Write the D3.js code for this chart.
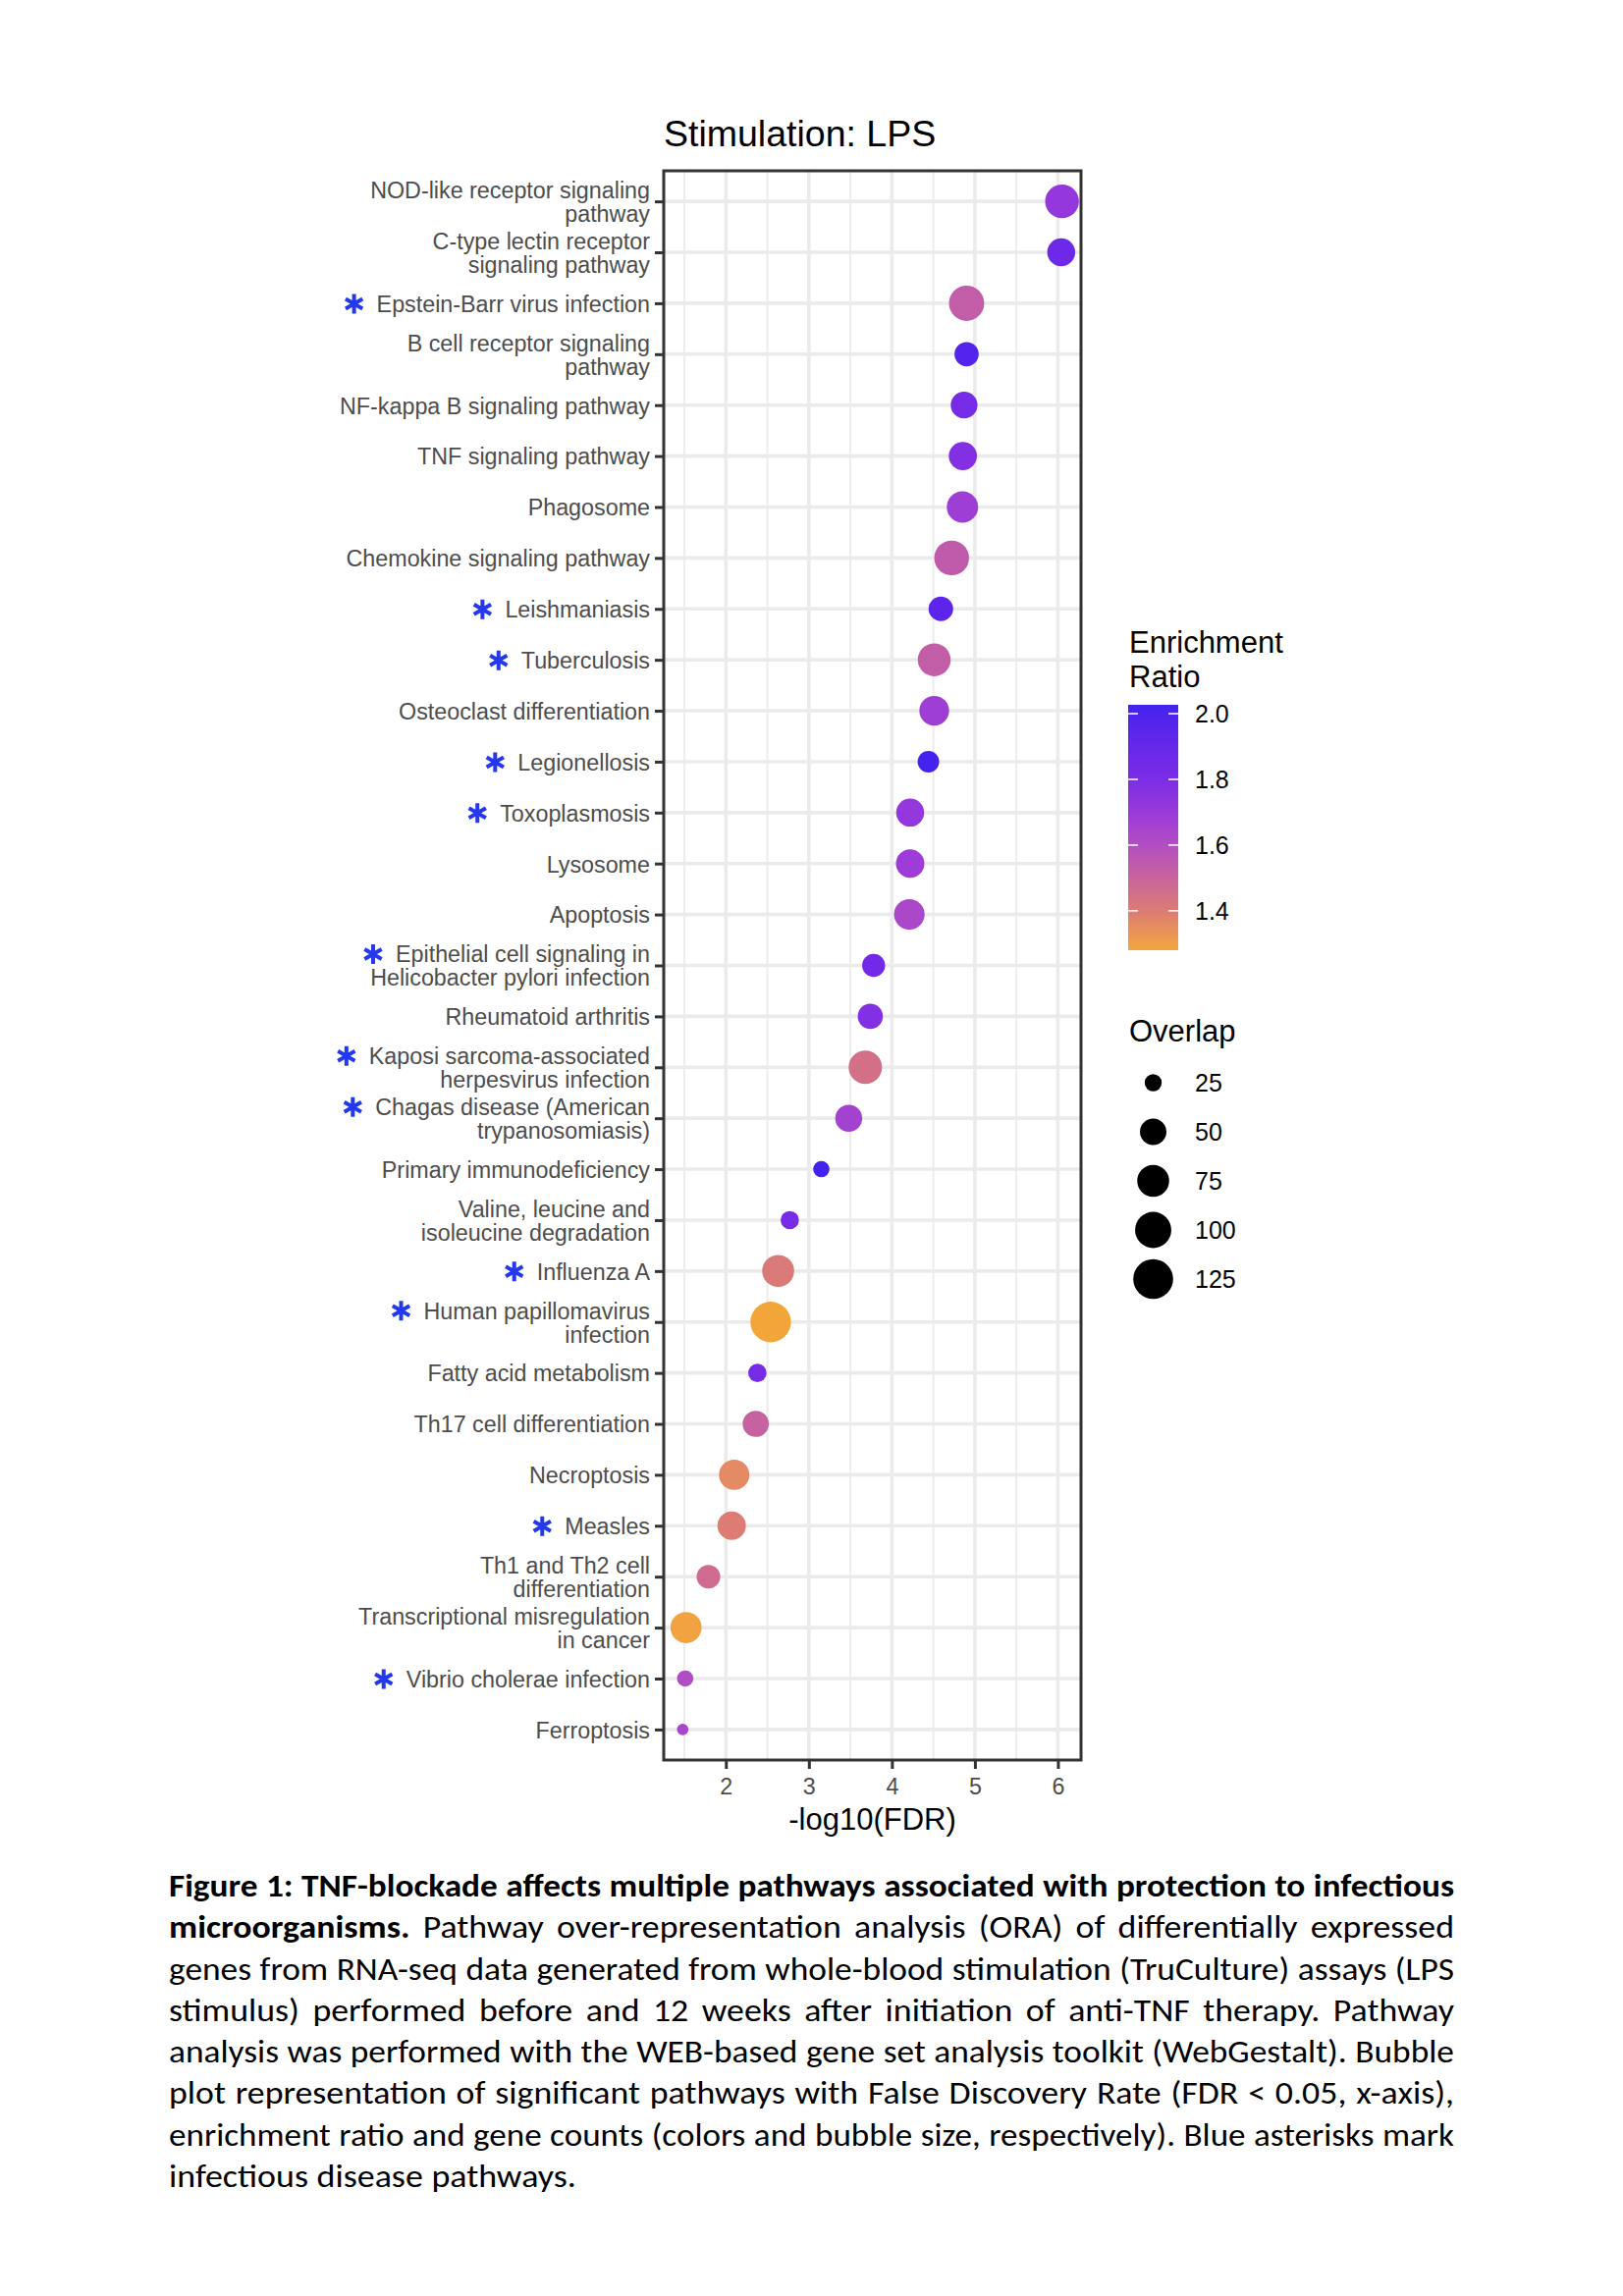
<!DOCTYPE html>
<html>
<head>
<meta charset="utf-8">
<script src="https://cdn.jsdelivr.net/npm/d3@7"></script>
<style>
  body { margin: 0; background: #fff; }
  svg { display: block; }
</style>
</head>
<body>
<div id="chart"></div>
<script>
// pathways, top to bottom
const pathways = [
  "NOD-like receptor signaling\npathway",
  "C-type lectin receptor\nsignaling pathway",
  "Epstein-Barr virus infection",
  "B cell receptor signaling\npathway",
  "NF-kappa B signaling pathway",
  "TNF signaling pathway",
  "Phagosome",
  "Chemokine signaling pathway",
  "Leishmaniasis",
  "Tuberculosis",
  "Osteoclast differentiation",
  "Legionellosis",
  "Toxoplasmosis",
  "Lysosome",
  "Apoptosis",
  "Epithelial cell signaling in\nHelicobacter pylori infection",
  "Rheumatoid arthritis",
  "Kaposi sarcoma-associated\nherpesvirus infection",
  "Chagas disease (American\ntrypanosomiasis)",
  "Primary immunodeficiency",
  "Valine, leucine and\nisoleucine degradation",
  "Influenza A",
  "Human papillomavirus\ninfection",
  "Fatty acid metabolism",
  "Th17 cell differentiation",
  "Necroptosis",
  "Measles",
  "Th1 and Th2 cell\ndifferentiation",
  "Transcriptional misregulation\nin cancer",
  "Vibrio cholerae infection",
  "Ferroptosis"
];
const negLog10FDR = [6.05, 6.04, 4.90, 4.90, 4.87, 4.855, 4.85, 4.72, 4.59, 4.51, 4.51, 4.44, 4.22, 4.22, 4.21,
  3.78, 3.74, 3.68, 3.48, 3.15, 2.77, 2.63, 2.54, 2.38, 2.36, 2.10, 2.07, 1.79, 1.52, 1.51, 1.48];
const enrichmentRatio = [1.72, 1.87, 1.53, 1.98, 1.83, 1.78, 1.68, 1.54, 1.94, 1.53, 1.68, 2.02, 1.72, 1.69, 1.63,
  1.85, 1.78, 1.45, 1.66, 2.027, 1.83, 1.41, 1.28, 1.83, 1.51, 1.36, 1.40, 1.47, 1.29, 1.61, 1.64];
const overlapGenes = [85, 56, 94, 42, 51, 57, 72, 91, 43, 80, 64, 34, 56, 58, 68,
  38, 45, 83, 52, 24, 27, 75, 130, 27, 49, 67, 58, 40, 71, 24, 21];
// pathways marked with a blue asterisk
const infectious = [
  "Epstein-Barr virus infection", "Leishmaniasis", "Tuberculosis", "Legionellosis", "Toxoplasmosis",
  "Epithelial cell signaling in\nHelicobacter pylori infection", "Kaposi sarcoma-associated\nherpesvirus infection",
  "Chagas disease (American\ntrypanosomiasis)", "Influenza A", "Human papillomavirus\ninfection",
  "Measles", "Vibrio cholerae infection"
];
const xTicks = [2, 3, 4, 5, 6];
const ratioTicks = [1.4, 1.6, 1.8, 2.0];
const overlapBreaks = [25, 50, 75, 100, 125];

const captionLines = [
  [{b: true, t: "Figure 1: TNF-blockade affects multiple pathways associated with protection to infectious"}],
  [{b: true, t: "microorganisms."}, {b: false, t: "Pathway over-representation analysis (ORA) of differentially expressed"}],
  [{b: false, t: "genes from RNA-seq data generated from whole-blood stimulation (TruCulture) assays (LPS"}],
  [{b: false, t: "stimulus) performed before and 12 weeks after initiation of anti-TNF therapy. Pathway"}],
  [{b: false, t: "analysis was performed with the WEB-based gene set analysis toolkit (WebGestalt). Bubble"}],
  [{b: false, t: "plot representation of significant pathways with False Discovery Rate (FDR < 0.05, x-axis),"}],
  [{b: false, t: "enrichment ratio and gene counts (colors and bubble size, respectively). Blue asterisks mark"}],
  [{b: false, t: "infectious disease pathways."}]
];

const data = pathways.map((p, i) => ({
  pathway: p, fdr: negLog10FDR[i], ratio: enrichmentRatio[i], overlap: overlapGenes[i]
}));

// page + panel geometry
const W = 1653, H = 2339;
const panel = {left: 676, right: 1101, top: 174, bottom: 1793};
const font = "'Liberation Sans', Arial, Helvetica, sans-serif";

const svg = d3.select("#chart")
  .append("svg")
  .attr("width", W)
  .attr("height", H)
  .style("font-family", font);

svg.append("rect").attr("width", W).attr("height", H).attr("fill", "#fff");

// scales
const fdrExt = d3.extent(negLog10FDR);
const pad = (fdrExt[1] - fdrExt[0]) * 0.05;
const x = d3.scaleLinear()
  .domain([fdrExt[0] - pad, fdrExt[1] + pad])
  .range([panel.left, panel.right]);

const y = d3.scalePoint()
  .domain(pathways)
  .range([panel.top, panel.bottom])
  .padding(0.6);

const erExt = d3.extent(enrichmentRatio);
const color = d3.scaleLinear()
  .domain([erExt[0], 1.4, 1.5, 1.6, 1.7, 1.8, erExt[1]])
  .range(["#F2A63A", "#DC7C74", "#C8649C", "#B24EC2", "#9A3ADA", "#7C2CE6", "#4322EE"])
  .interpolate(d3.interpolateLab);

const sizeNorm = d3.scaleLinear().domain(d3.extent(overlapGenes)).range([0, 1]);
const radius = d3.scaleLinear().domain([0, 1]).range([5.85, 20.65]);
const r = v => radius(Math.sqrt(Math.max(0, sizeNorm(v))));

// grid
const grid = svg.append("g");
const minorTicks = xTicks.map(t => t - 0.5).concat([xTicks[xTicks.length - 1] + 0.5])
  .filter(t => t > x.domain()[0] && t < x.domain()[1]);
grid.selectAll(".minor")
  .data(minorTicks)
  .join("line")
    .attr("x1", d => x(d)).attr("x2", d => x(d))
    .attr("y1", panel.top).attr("y2", panel.bottom)
    .attr("stroke", "#EBEBEB").attr("stroke-width", 1.8);
grid.selectAll(".majx")
  .data(xTicks)
  .join("line")
    .attr("x1", d => x(d)).attr("x2", d => x(d))
    .attr("y1", panel.top).attr("y2", panel.bottom)
    .attr("stroke", "#EBEBEB").attr("stroke-width", 3.6);
grid.selectAll(".majy")
  .data(pathways)
  .join("line")
    .attr("x1", panel.left).attr("x2", panel.right)
    .attr("y1", d => y(d)).attr("y2", d => y(d))
    .attr("stroke", "#EBEBEB").attr("stroke-width", 3.6);

// bubbles
svg.append("g")
  .selectAll("circle")
  .data(data)
  .join("circle")
    .attr("cx", d => x(d.fdr))
    .attr("cy", d => y(d.pathway))
    .attr("r", d => r(d.overlap))
    .attr("fill", d => color(d.ratio));

// panel border
svg.append("rect")
  .attr("x", panel.left).attr("y", panel.top)
  .attr("width", panel.right - panel.left)
  .attr("height", panel.bottom - panel.top)
  .attr("fill", "none")
  .attr("stroke", "#333333")
  .attr("stroke-width", 3);

// x axis
const xAxis = svg.append("g")
  .attr("transform", `translate(0, ${panel.bottom})`)
  .call(d3.axisBottom(x).tickValues(xTicks).tickFormat(d3.format("d")).tickSize(9).tickPadding(9.5));
xAxis.select(".domain").remove();
xAxis.selectAll(".tick line").attr("stroke", "#333333").attr("stroke-width", 3);
xAxis.selectAll(".tick text")
  .attr("fill", "#4D4D4D")
  .style("font-size", "23.3px")
  .style("font-family", font);

svg.append("text")
  .attr("x", (panel.left + panel.right) / 2)
  .attr("y", 1864)
  .attr("text-anchor", "middle")
  .style("font-size", "31px")
  .text("-log10(FDR)");

// y axis with wrapped labels
const lineH = 24;
const yAxis = svg.append("g")
  .attr("transform", `translate(${panel.left}, 0)`)
  .call(d3.axisLeft(y).tickSize(9).tickPadding(5));
yAxis.select(".domain").remove();
yAxis.selectAll(".tick line").attr("stroke", "#333333").attr("stroke-width", 3);
yAxis.selectAll(".tick text").each(function(d) {
  const t = d3.select(this)
    .attr("dy", null)
    .attr("fill", "#4D4D4D")
    .style("font-size", "23.3px")
    .style("font-family", font)
    .text(null);
  const lines = d.split("\n");
  lines.forEach((ln, i) => {
    t.append("tspan")
      .attr("x", -14)
      .attr("y", (i - (lines.length - 1) / 2) * lineH + 8.3)
      .text(ln);
  });
});

// blue asterisks for infectious disease pathways
function asteriskPath(rad) {
  const p = d3.path();
  const u = rad * Math.cos(Math.PI / 6), v = rad * Math.sin(Math.PI / 6);
  p.moveTo(0, -rad); p.lineTo(0, rad);
  p.moveTo(-u, -v); p.lineTo(u, v);
  p.moveTo(-u, v); p.lineTo(u, -v);
  return p.toString();
}
yAxis.selectAll(".tick").each(function(d) {
  if (!infectious.includes(d)) return;
  const first = d3.select(this).select("tspan");
  const w = first.node().getComputedTextLength();
  const lines = d.split("\n");
  const cy = (-(lines.length - 1) / 2) * lineH;
  d3.select(this).append("path")
    .attr("d", asteriskPath(10))
    .attr("transform", `translate(${-14 - w - 23}, ${cy})`)
    .attr("fill", "none")
    .attr("stroke", "#2438EE")
    .attr("stroke-width", 4);
});

// title
svg.append("text")
  .attr("x", panel.left)
  .attr("y", 149)
  .style("font-size", "37.5px")
  .text("Stimulation: LPS");

// colour legend
const leg = {x: 1149, w: 51, top: 718, bottom: 968};
svg.append("text").attr("x", leg.x + 1).attr("y", 665).style("font-size", "31px").text("Enrichment");
svg.append("text").attr("x", leg.x + 1).attr("y", 700).style("font-size", "31px").text("Ratio");

const barY = d3.scaleLinear().domain(erExt).range([leg.bottom, leg.top]);
const grad = svg.append("defs").append("linearGradient")
  .attr("id", "erGrad")
  .attr("x1", 0).attr("y1", 1).attr("x2", 0).attr("y2", 0);
grad.selectAll("stop")
  .data(d3.range(0, 1.0001, 0.02))
  .join("stop")
    .attr("offset", d => d)
    .attr("stop-color", d => color(erExt[0] + d * (erExt[1] - erExt[0])));
svg.append("rect")
  .attr("x", leg.x).attr("y", leg.top)
  .attr("width", leg.w).attr("height", leg.bottom - leg.top)
  .attr("fill", "url(#erGrad)");
const tickG = svg.append("g");
ratioTicks.forEach(t => {
  const ty = barY(t);
  tickG.append("line").attr("x1", leg.x).attr("x2", leg.x + 10).attr("y1", ty).attr("y2", ty)
    .attr("stroke", "#fff").attr("stroke-width", 1.5);
  tickG.append("line").attr("x1", leg.x + leg.w - 10).attr("x2", leg.x + leg.w).attr("y1", ty).attr("y2", ty)
    .attr("stroke", "#fff").attr("stroke-width", 1.5);
  tickG.append("text").attr("x", 1217).attr("y", ty + 9)
    .style("font-size", "25px").text(d3.format(".1f")(t));
});

// size legend
svg.append("text").attr("x", leg.x + 1).attr("y", 1061).style("font-size", "31px").text("Overlap");
const sizeKey = d3.scaleLinear().domain([0, overlapBreaks.length - 1]).range([1103, 1303]);
overlapBreaks.forEach((v, i) => {
  svg.append("circle")
    .attr("cx", leg.x + leg.w / 2)
    .attr("cy", sizeKey(i))
    .attr("r", r(v))
    .attr("fill", "#000");
  svg.append("text")
    .attr("x", 1217)
    .attr("y", sizeKey(i) + 9)
    .style("font-size", "25px")
    .text(v);
});

// caption, justified; glyphs stretched a little so word gaps stay natural
const capX0 = 172, capX1 = 1481, capW = capX1 - capX0;
const capFs = 32;
const cap = svg.append("g")
  .style("font-family", "Carlito, Calibri, Lato, sans-serif")
  .style("font-size", capFs + "px")
  .attr("fill", "#000");
const laid = captionLines.map((segs, i) => {
  const words = segs.flatMap(s => s.t.split(" ").map(w => ({w, b: s.b})));
  const g = cap.append("g");
  const ly = 1932 + i * 42.3;
  const nodes = words.map(d => g.append("text")
    .attr("y", ly)
    .style("font-weight", d.b ? "bold" : "normal")
    .text(d.w));
  const widths = nodes.map(n => n.node().getComputedTextLength());
  return {g, nodes, widths, total: d3.sum(widths), n: words.length};
});
const natGap = capFs * 0.24;
const fillSx = laid.slice(0, -1).map(l => capW / (l.total + natGap * (l.n - 1)));
const meanSx = d3.mean(fillSx);
laid.forEach((l, i) => {
  const isLast = i === laid.length - 1;
  let sx, gap;
  if (isLast) {
    sx = meanSx; gap = natGap;
  } else {
    sx = Math.max(0.85, Math.min(1.12, fillSx[i]));
    gap = (capW / sx - l.total) / (l.n - 1);
  }
  let cx = 0;
  l.nodes.forEach((n, k) => { n.attr("x", cx); cx += l.widths[k] + gap; });
  l.g.attr("transform", `translate(${capX0},0) scale(${sx},1)`);
});
</script>
</body>
</html>
